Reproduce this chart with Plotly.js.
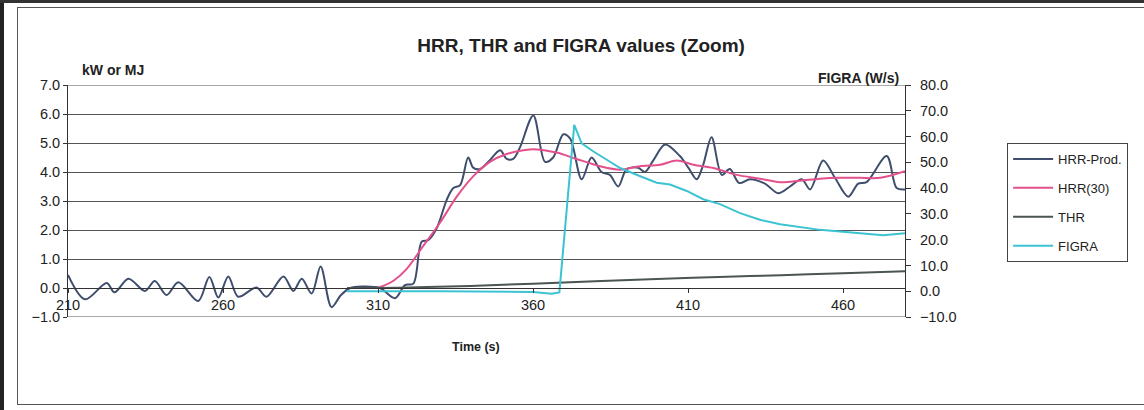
<!DOCTYPE html>
<html>
<head>
<meta charset="utf-8">
<script src="https://cdn.plot.ly/plotly-3.0.1.min.js"></script>
<style>
  html, body { margin: 0; padding: 0; background: #fff; }
  #wrap { position: relative; width: 1144px; height: 410px; overflow: hidden; }
  #chart { position: absolute; left: 0; top: 0; width: 1144px; height: 410px; }
  .frame { position: absolute; left: 17px; top: 7px; width: 1140px; height: 398px; border: 1px solid #555; box-sizing: border-box; pointer-events: none; }
  .leftbar { position: absolute; left: 0; top: 0; width: 4px; height: 410px; background: #222; pointer-events: none; }
  .topbar { position: absolute; left: 0; top: 0; width: 1144px; height: 3px; background: #333; pointer-events: none; }
</style>
</head>
<body>
<div id="wrap">
  <div id="chart"></div>
  <div class="frame"></div>
  <div class="leftbar"></div>
  <div class="topbar"></div>
</div>
<script>
// ---- Data ----
const hrrProdTime = [210, 215.5, 222.5, 225, 229.5, 234.8, 238, 241.8, 245.6, 252, 255.6, 258.5, 261.7, 264.9, 270.8, 274, 279.5, 282.7, 285.4, 288.6, 291.5, 295, 298, 301, 305, 310.6, 315.5, 318.7, 321.4, 324.1, 326.2, 328.9, 332.2, 334.3, 336.5, 339.1, 340.7, 342.9, 345.6, 349.4, 351.5, 353.6, 355.8, 360.1, 363.9, 366.5, 369.8, 372, 375.7, 378.9, 382.1, 384.8, 387.5, 390.2, 393.9, 396.1, 398.8, 402.6, 407.4, 410.1, 412.8, 414.9, 417.6, 420.9, 423.5, 426.5, 430, 434.8, 439.1, 442.9, 446.7, 449.4, 453.6, 457.4, 461.7, 464.9, 467.6, 474.1, 477.3, 480];
const hrrProdValue = [0.45, -0.39, 0.17, -0.15, 0.32, -0.1, 0.24, -0.24, 0.2, -0.45, 0.38, -0.33, 0.4, -0.3, 0.02, -0.3, 0.4, -0.1, 0.32, -0.19, 0.74, -0.66, -0.25, 0.0, 0.05, 0.0, -0.35, 0.1, 0.15, 1.6, 1.65, 2.05, 3.05, 3.45, 3.55, 4.5, 4.15, 4.1, 4.35, 4.75, 4.45, 4.45, 4.85, 5.95, 4.35, 4.5, 5.3, 5.15, 3.75, 4.5, 4.0, 3.9, 3.5, 4.1, 4.15, 4.0, 4.4, 4.95, 4.55, 4.15, 3.75, 4.25, 5.2, 3.9, 4.1, 3.62, 3.75, 3.6, 3.27, 3.5, 3.75, 3.4, 4.4, 3.8, 3.15, 3.6, 3.65, 4.55, 3.45, 3.4];

const hrr30Time = [310, 315, 319.2, 324.6, 330, 335.4, 340.7, 346.1, 351.5, 356.9, 361.1, 367.6, 374, 381.6, 388.1, 394.5, 401, 406.4, 411.7, 418.2, 425.7, 433.2, 439.7, 446.1, 452.6, 459, 465.5, 472, 480];
const hrr30Value = [0.0, 0.25, 0.65, 1.45, 2.25, 3.15, 3.85, 4.35, 4.62, 4.75, 4.78, 4.67, 4.45, 4.2, 4.08, 4.2, 4.25, 4.4, 4.25, 4.14, 3.9, 3.77, 3.65, 3.7, 3.77, 3.8, 3.8, 3.8, 4.03];

const thrTime = [300, 320, 340, 360, 380, 400, 420, 440, 460, 480];
const thrValue = [0.0, 0.02, 0.07, 0.15, 0.23, 0.31, 0.38, 0.44, 0.51, 0.58];

const figraTime = [300, 330, 360, 366, 368.5, 373.3, 375.7, 379.5, 383.8, 388.1, 393.4, 399.9, 404.2, 409.6, 414.9, 420.3, 426.8, 433.2, 439.7, 446.1, 452.6, 459, 465.5, 473, 480];
const figraValue = [0, 0, -0.3, -1, -0.5, 64.5, 57.4, 54.2, 51, 47.8, 45.2, 42.1, 41.4, 38.9, 35.7, 33.8, 30.3, 27.7, 26, 25, 23.8, 23.2, 22.6, 21.7, 22.5];

const xTicks = [210, 260, 310, 360, 410, 460];
const xTickLabels = ['210', '260', '310', '360', '410', '460'];

const seriesNames = ['HRR-Prod.', 'HRR(30)', 'THR', 'FIGRA'];
const seriesColors = ['#3f4e6c', '#e4508c', '#4b5551', '#3cc3d2'];

// ---- Chart ----
const FONT = 'Liberation Sans, Arial, sans-serif';
const traces = [
  { x: hrrProdTime, y: hrrProdValue, name: seriesNames[0], type: 'scatter', mode: 'lines',
    line: { color: seriesColors[0], width: 2, shape: 'spline', smoothing: 0.9 }, legendgroup: 'a', yaxis: 'y' },
  { x: hrr30Time, y: hrr30Value, name: seriesNames[1], type: 'scatter', mode: 'lines',
    line: { color: seriesColors[1], width: 2, shape: 'spline', smoothing: 0.9 }, legendgroup: 'b', yaxis: 'y' },
  { x: thrTime, y: thrValue, name: seriesNames[2], type: 'scatter', mode: 'lines',
    line: { color: seriesColors[2], width: 2, shape: 'spline' }, legendgroup: 'c', yaxis: 'y' },
  { x: figraTime, y: figraValue, name: seriesNames[3], type: 'scatter', mode: 'lines',
    line: { color: seriesColors[3], width: 2 }, legendgroup: 'd', yaxis: 'y2' }
];

const layout = {
  width: 1144, height: 410,
  margin: { l: 68, r: 239, t: 85, b: 93 },
  paper_bgcolor: '#fff', plot_bgcolor: '#fff',
  font: { family: FONT, color: '#222', size: 14 },
  showlegend: true,
  title: { text: '<b>HRR, THR and FIGRA values (Zoom)</b>', font: { family: FONT, size: 19, color: '#222' },
           xref: 'container', yref: 'container', x: 0.508, y: 0.89, xanchor: 'center', yanchor: 'middle' },
  xaxis: {
    range: [210, 480], tickmode: 'array', tickvals: xTicks, ticktext: xTickLabels,
    anchor: 'free', position: 0.125, showgrid: false, zeroline: false,
    showline: true, linecolor: '#333', linewidth: 1, ticks: 'outside', ticklen: 4, tickcolor: '#333',
    tickfont: { family: FONT, size: 14.5, color: '#222' }
  },
  yaxis: {
    range: [-1, 7], dtick: 1, tick0: 0, tickformat: '.1f', showgrid: true, gridcolor: '#555', gridwidth: 1,
    zeroline: false, showline: true, linecolor: '#333', ticks: 'outside', ticklen: 4, tickcolor: '#333',
    tickfont: { family: FONT, size: 14.5, color: '#222' }
  },
  yaxis2: {
    overlaying: 'y', side: 'right', range: [-10, 80], dtick: 10, tick0: 0, tickformat: '.1f',
    showgrid: false, zeroline: false, showline: true, linecolor: '#333', ticks: 'outside', ticklen: 5,
    tickcolor: '#333', ticklabelstandoff: 6, tickfont: { family: FONT, size: 14.5, color: '#222' }
  },
  legend: {
    x: 1.122, y: 0.75, xanchor: 'left', yanchor: 'top',
    bordercolor: '#444', borderwidth: 1, bgcolor: '#fff',
    font: { family: FONT, size: 13, color: '#222' },
    traceorder: 'grouped', tracegroupgap: 9, itemwidth: 40
  },
  shapes: [
    { type: 'line', xref: 'paper', yref: 'y', x0: 0, x1: 1, y0: -1, y1: -1, line: { color: '#555', width: 1 } },
    { type: 'line', xref: 'paper', yref: 'y', x0: 0, x1: 1, y0: 7, y1: 7, line: { color: '#555', width: 1 } }
  ],
  annotations: [
    { text: '<b>kW or MJ</b>', xref: 'paper', yref: 'paper', x: 0.014, y: 1.065, xanchor: 'left', yanchor: 'middle',
      showarrow: false, font: { family: FONT, size: 14, color: '#222' } },
    { text: '<b>FIGRA (W/s)</b>', xref: 'paper', yref: 'paper', x: 0.995, y: 1.03, xanchor: 'right', yanchor: 'middle',
      showarrow: false, font: { family: FONT, size: 14, color: '#222' } },
    { text: '<b>Time (s)</b>', xref: 'paper', yref: 'paper', x: 0.487, y: -0.13, xanchor: 'center', yanchor: 'middle',
      showarrow: false, font: { family: FONT, size: 12.5, color: '#222' } }
  ]
};

Plotly.newPlot('chart', traces, layout, { displayModeBar: false, staticPlot: true });
</script>
</body>
</html>
